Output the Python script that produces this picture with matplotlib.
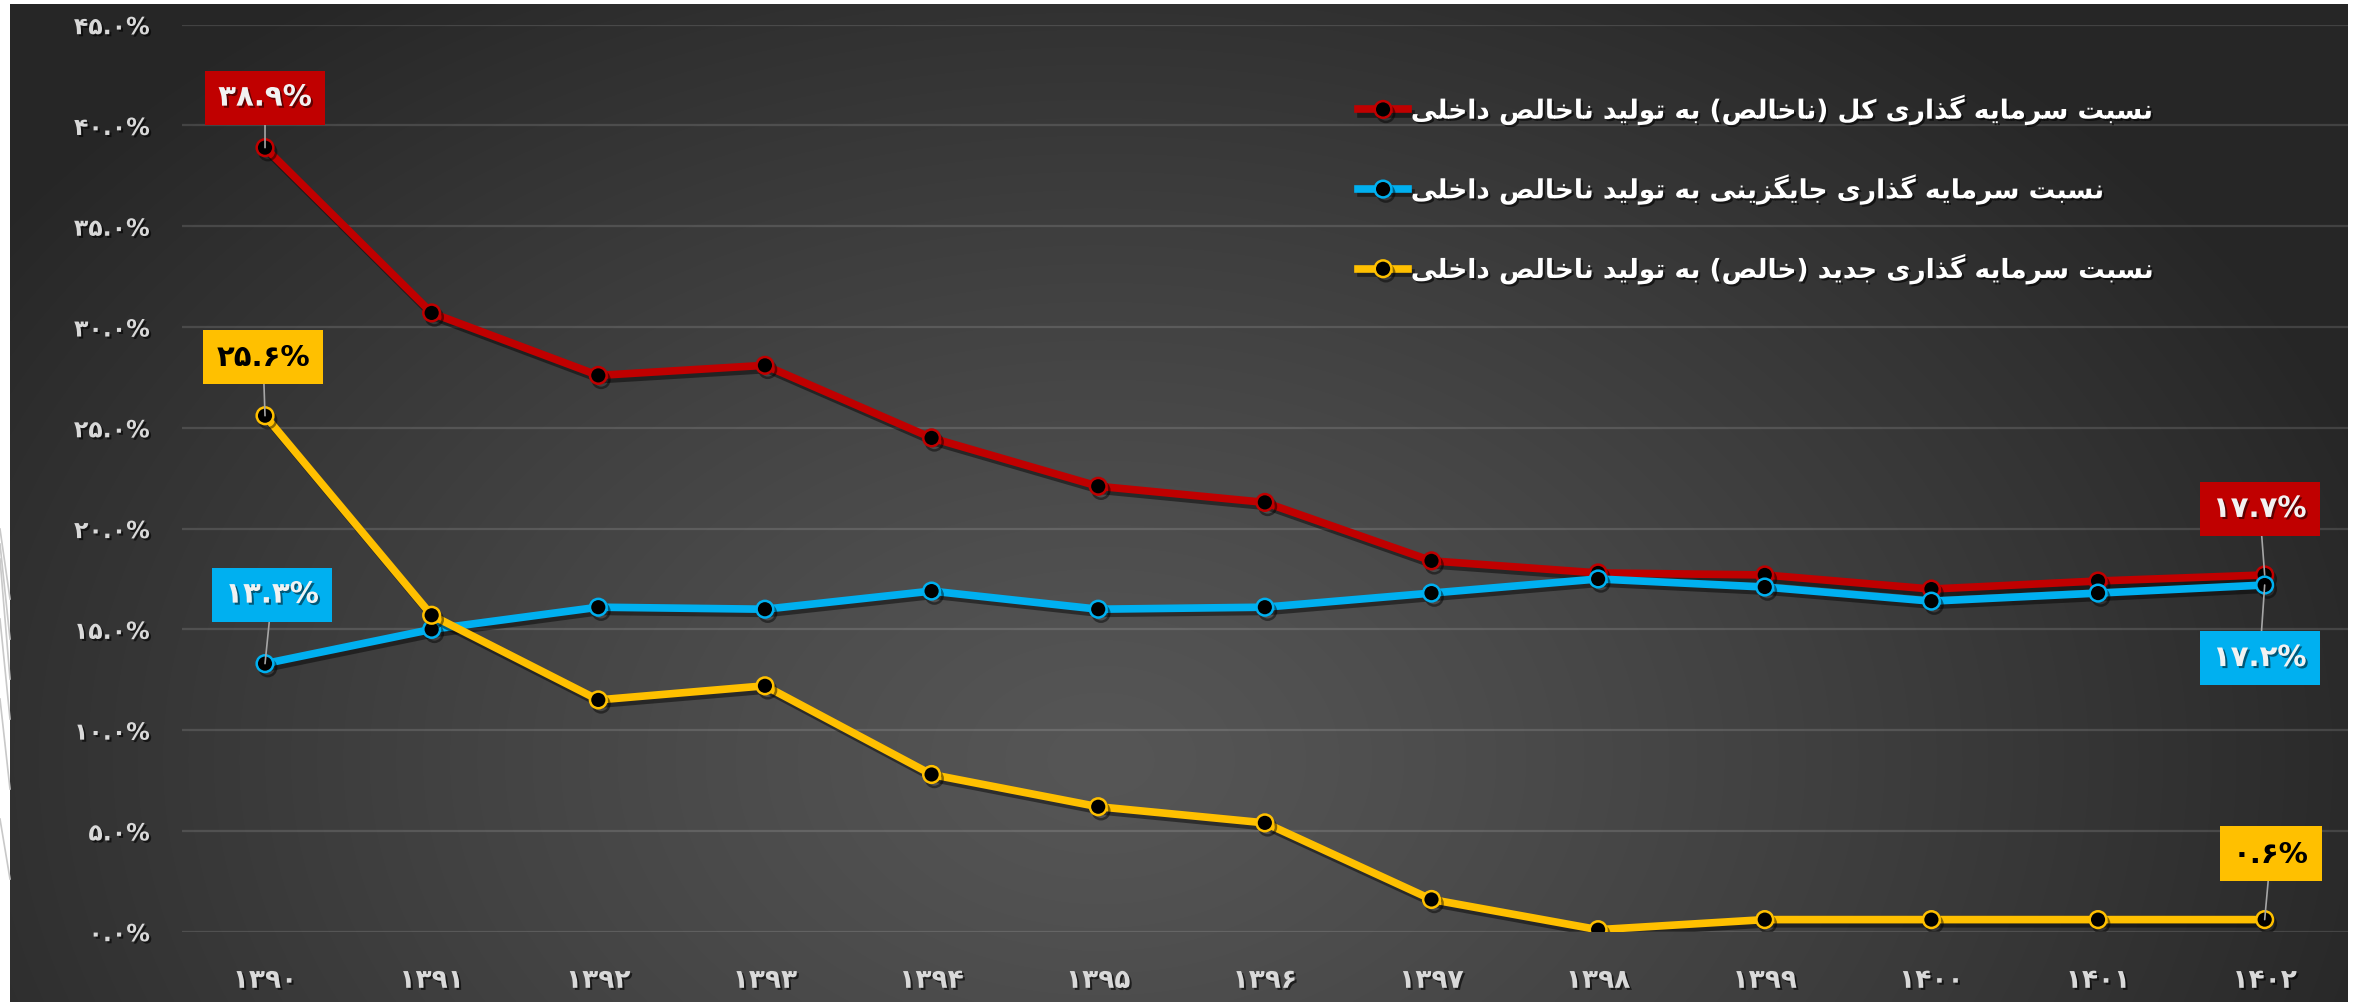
import matplotlib
matplotlib.use('Agg')
import matplotlib.pyplot as plt
import matplotlib.patheffects as pe
import numpy as np

# ---------------- data ----------------
years = ['۱۳۹۰', '۱۳۹۱', '۱۳۹۲', '۱۳۹۳', '۱۳۹۴', '۱۳۹۵', '۱۳۹۶',
         '۱۳۹۷', '۱۳۹۸', '۱۳۹۹', '۱۴۰۰', '۱۴۰۱', '۱۴۰۲']
total_inv = [38.9, 30.7, 27.6, 28.1, 24.5, 22.1, 21.3, 18.4, 17.8, 17.7, 17.0, 17.4, 17.7]
replace_inv = [13.3, 15.0, 16.1, 16.0, 16.9, 16.0, 16.1, 16.8, 17.5, 17.1, 16.4, 16.8, 17.2]
new_inv = [25.6, 15.7, 11.5, 12.2, 7.8, 6.2, 5.4, 1.6, 0.1, 0.6, 0.6, 0.6, 0.6]
series_names = ['نسبت سرمایه گذاری کل (ناخالص) به تولید ناخالص داخلی',
                'نسبت سرمایه گذاری جایگزینی به تولید ناخالص داخلی',
                'نسبت سرمایه گذاری جدید (خالص) به تولید ناخالص داخلی']
ytick_values = [0, 5, 10, 15, 20, 25, 30, 35, 40, 45]
ytick_labels = ['۰.۰%', '۵.۰%', '۱۰.۰%', '۱۵.۰%', '۲۰.۰%', '۲۵.۰%',
                '۳۰.۰%', '۳۵.۰%', '۴۰.۰%', '۴۵.۰%']
first_labels = ['۳۸.۹%', '۱۳.۳%', '۲۵.۶%']
last_labels = ['۱۷.۷%', '۱۷.۲%', '۰.۶%']

# ---------------- simple Persian shaping ----------------
FORMS = {
    'ا': ('\uFE8D', '\uFE8E', None, None),
    'د': ('\uFEA9', '\uFEAA', None, None),
    'ذ': ('\uFEAB', '\uFEAC', None, None),
    'ر': ('\uFEAD', '\uFEAE', None, None),
    'ز': ('\uFEAF', '\uFEB0', None, None),
    'و': ('\uFEED', '\uFEEE', None, None),
    'ب': ('\uFE8F', '\uFE90', '\uFE91', '\uFE92'),
    'ت': ('\uFE95', '\uFE96', '\uFE97', '\uFE98'),
    'ج': ('\uFE9D', '\uFE9E', '\uFE9F', '\uFEA0'),
    'خ': ('\uFEA5', '\uFEA6', '\uFEA7', '\uFEA8'),
    'س': ('\uFEB1', '\uFEB2', '\uFEB3', '\uFEB4'),
    'ص': ('\uFEB9', '\uFEBA', '\uFEBB', '\uFEBC'),
    'ل': ('\uFEDD', '\uFEDE', '\uFEDF', '\uFEE0'),
    'م': ('\uFEE1', '\uFEE2', '\uFEE3', '\uFEE4'),
    'ن': ('\uFEE5', '\uFEE6', '\uFEE7', '\uFEE8'),
    'ه': ('\uFEE9', '\uFEEA', '\uFEEB', '\uFEEC'),
    'ک': ('\uFB8E', '\uFB8F', '\uFB90', '\uFB91'),
    'گ': ('\uFB92', '\uFB93', '\uFB94', '\uFB95'),
    'ی': ('\uFBFC', '\uFBFD', '\uFBFE', '\uFBFF'),
}


def shape(s):
    out = []
    for i, c in enumerate(s):
        if c not in FORMS:
            out.append(c)
            continue
        prev = s[i - 1] if i > 0 else None
        nxt = s[i + 1] if i + 1 < len(s) else None
        jp = prev in FORMS and FORMS[prev][2] is not None
        jn = FORMS[c][2] is not None and nxt in FORMS
        iso, fin, ini, med = FORMS[c]
        if jp and jn:
            out.append(med)
        elif jp:
            out.append(fin)
        elif jn:
            out.append(ini)
        else:
            out.append(iso)
    vis = ''.join(out)[::-1]
    return vis.translate(str.maketrans('()', ')('))


plt.rcParams['font.family'] = ['DejaVu Sans']
plt.rcParams['font.weight'] = 'bold'

W, H = 2358, 1003
fig = plt.figure(figsize=(W / 100, H / 100), dpi=100)
fig.patch.set_facecolor('white')

# background gradient panel
bg = fig.add_axes([10 / W, 0, (2348 - 10) / W, (H - 5) / H])
bg.set_axis_off()
yy, xx = np.mgrid[5:H:2, 10:2348:2]
r = np.sqrt(((xx - 1100) / 1350.0) ** 2 + ((yy - 760) / 950.0) ** 2)
r = np.clip(r, 0, 1) ** 1.2
c0 = np.array([0x56, 0x56, 0x56]) / 255.0
c1 = np.array([0x26, 0x26, 0x26]) / 255.0
img = c0[None, None, :] * (1 - r[..., None]) + c1[None, None, :] * r[..., None]
bg.imshow(img, aspect='auto', extent=[0, 1, 0, 1], interpolation='bilinear')
bg.set_xlim(0, 1)
bg.set_ylim(0, 1)

# decorative lines in the left white strip
for y0, y1 in [(530, 600), (545, 640), (560, 680), (620, 720), (700, 790), (820, 880)]:
    fig.add_artist(plt.Line2D([0, 10 / W], [1 - y0 / H, 1 - y1 / H],
                              color='#c8c8c8', lw=1.2, transform=fig.transFigure))

# main axes
left, right = 181.7, 2348
top, bottom = 25.7, 932.7
ax = fig.add_axes([left / W, 1 - bottom / H, (right - left) / W, (bottom - top) / H])
ax.patch.set_alpha(0)
for s in ax.spines.values():
    s.set_visible(False)

x = np.arange(len(years))
colors = ['#C00000', '#00B0F0', '#FFC000']
data = [total_inv, replace_inv, new_inv]
shadow = [pe.SimpleLineShadow(offset=(2, -3), shadow_color='black', alpha=0.45), pe.Normal()]
lines = []
for vals, col, name in zip(data, colors, series_names):
    ln, = ax.plot(x, vals, color=col, lw=5.5, marker='o', markersize=12,
                  markerfacecolor='black', markeredgecolor=col, markeredgewidth=1.8,
                  label=shape(name), zorder=3, path_effects=shadow)
    lines.append(ln)

ax.set_xlim(-0.5, len(years) - 0.5)
ax.set_ylim(0, 45)
ax.set_yticks(ytick_values)
ax.set_yticklabels(ytick_labels)
ax.set_xticks(x)
ax.set_xticklabels(years)
txt_shadow = [pe.withSimplePatchShadow(offset=(1.5, -1.5), shadow_rgbFace='black', alpha=0.6)]
ax.tick_params(axis='y', length=0, pad=23, labelsize=17, labelcolor='#d9d9d9')
ax.tick_params(axis='x', length=0, pad=26, labelsize=19, labelcolor='#d9d9d9')
for t in ax.get_xticklabels() + ax.get_yticklabels():
    t.set_fontweight('bold')
    t.set_path_effects(txt_shadow)
ax.yaxis.grid(True, color='#ffffff', alpha=0.13, lw=1.6)
ax.xaxis.grid(False)
ax.set_axisbelow(True)

# data labels
text_colors = ['#f2f2f2', '#f2f2f2', '#000000']
first_off = [(0, 50), (7, 69), (-2, 59)]
last_off = [(-5, 66), (-5, -73), (6, 66)]
for k in range(3):
    for idx, lab, off in [(0, first_labels[k], first_off[k]), (len(years) - 1, last_labels[k], last_off[k])]:
        a = ax.annotate(lab, xy=(idx, data[k][idx]), xytext=off, textcoords='offset pixels',
                        ha='center', va='center', fontsize=21, fontweight='bold',
                        color=text_colors[k],
                        bbox=dict(boxstyle='square,pad=0.45', fc=colors[k], ec='none'),
                        arrowprops=dict(arrowstyle='-', color='#a6a6a6', lw=1.2,
                                        shrinkA=0, shrinkB=0),
                        zorder=5)
        if k < 2:
            a.set_path_effects([pe.withSimplePatchShadow(offset=(1.5, -1.5),
                                                         shadow_rgbFace='black', alpha=0.5)])

leg = ax.legend(handles=lines, loc='upper left',
                bbox_to_anchor=(1358 / W, 1 - 96 / H), bbox_transform=fig.transFigure,
                frameon=False, fontsize=19, labelspacing=1.88, handlelength=1.9,
                handletextpad=0.1, borderpad=0, borderaxespad=0)
for t in leg.get_texts():
    t.set_color('white')
    t.set_fontweight('bold')
    t.set_path_effects(txt_shadow)

fig.savefig('out.png', dpi=100, facecolor=fig.get_facecolor())
